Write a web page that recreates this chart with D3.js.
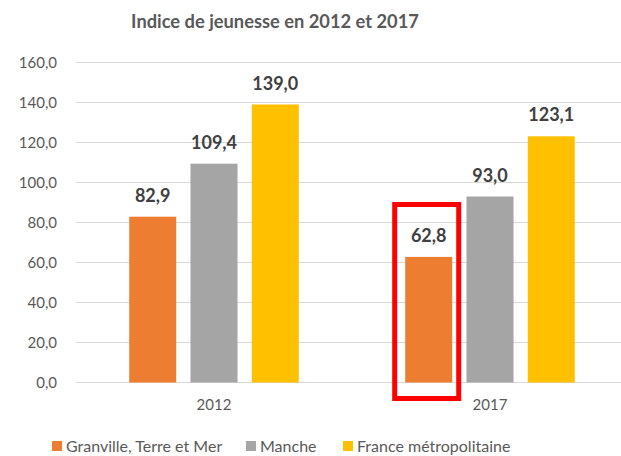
<!DOCTYPE html>
<html>
<head>
<meta charset="utf-8">
<script src="https://cdn.jsdelivr.net/npm/d3@7"></script>
<style>
  body { margin: 0; background: #fff; }
  svg { display: block; font-family: Lato, "Open Sans", sans-serif; }
</style>
</head>
<body>
<svg id="chart" width="621" height="456"></svg>
<script>
var years = ["2012", "2017"];
var series = ["Granville, Terre et Mer", "Manche", "France métropolitaine"];
var granville = [82.9, 62.8];
var manche = [109.4, 93.0];
var france = [139.0, 123.1];
var yTicks = [0, 20, 40, 60, 80, 100, 120, 140, 160];
var colors = ["#ED7D31", "#A5A5A5", "#FFC000"];

var values = [granville, manche, france];
var fmt = function(v) { return v.toFixed(1).replace(".", ","); };

var svg = d3.select("#chart");

var x0 = d3.scaleBand().domain(years).range([76, 628]);
var x1 = d3.scaleBand().domain(series).range([0, x0.bandwidth()])
  .paddingInner(0.233).paddingOuter(0.868);
var y = d3.scaleLinear().domain([0, 160]).range([382.5, 62.5]);
var color = d3.scaleOrdinal().domain(series).range(colors);

// title
svg.append("text")
  .attr("x", 275)
  .attr("y", 28)
  .attr("text-anchor", "middle")
  .style("font-size", "18.3px")
  .style("font-weight", "bold")
  .style("fill", "#595959")
  .text("Indice de jeunesse en 2012 et 2017");

// gridlines
svg.append("g")
  .selectAll("line")
  .data(yTicks)
  .enter().append("line")
  .attr("x1", 76)
  .attr("x2", 628)
  .attr("y1", function(d) { return y(d); })
  .attr("y2", function(d) { return y(d); })
  .style("stroke", "#d9d9d9")
  .style("stroke-width", 1);

// y axis labels
var yAxis = svg.append("g")
  .attr("transform", "translate(64,0)")
  .call(d3.axisLeft(y).tickValues(yTicks).tickSize(0).tickPadding(7).tickFormat(fmt));
yAxis.select(".domain").remove();
yAxis.selectAll("text")
  .style("font-family", "Lato, sans-serif")
  .style("font-size", "15px")
  .style("fill", "#595959");

// x axis labels
var xAxis = svg.append("g")
  .attr("transform", "translate(0," + y(0) + ")")
  .call(d3.axisBottom(x0).tickSize(0).tickPadding(17));
xAxis.select(".domain").remove();
xAxis.selectAll("text")
  .style("font-family", "Lato, sans-serif")
  .style("font-size", "15px")
  .style("fill", "#595959");

// bars
var groups = svg.append("g")
  .selectAll("g")
  .data(years)
  .enter().append("g")
  .attr("transform", function(d) { return "translate(" + x0(d) + ",0)"; });

groups.selectAll("rect")
  .data(function(d, i) {
    return series.map(function(s, j) { return {key: s, value: values[j][i]}; });
  })
  .enter().append("rect")
  .attr("x", function(d) { return x1(d.key); })
  .attr("y", function(d) { return y(d.value); })
  .attr("width", x1.bandwidth())
  .attr("height", function(d) { return y(0) - y(d.value); })
  .style("fill", function(d) { return color(d.key); });

groups.selectAll("text.val")
  .data(function(d, i) {
    return series.map(function(s, j) { return {key: s, value: values[j][i]}; });
  })
  .enter().append("text")
  .attr("class", "val")
  .attr("x", function(d) { return x1(d.key) + x1.bandwidth() / 2; })
  .attr("y", function(d) { return y(d.value) - 15; })
  .attr("text-anchor", "middle")
  .style("font-size", "18px")
  .style("font-weight", "bold")
  .style("fill", "#404040")
  .text(function(d) { return fmt(d.value); });

// red highlight around Granville 2017
var hx = x0("2017") + x1(series[0]);
svg.append("rect")
  .attr("x", hx - 10.5)
  .attr("y", y(granville[1]) - 52.4)
  .attr("width", x1.bandwidth() + 17)
  .attr("height", y(0) + 16 - (y(granville[1]) - 52.4))
  .style("fill", "none")
  .style("stroke", "#FF0000")
  .style("stroke-width", 5);

// legend (kept just inside the bottom edge)
var legendPos = [52, 246, 343];
var legend = svg.append("g")
  .selectAll("g")
  .data(series)
  .enter().append("g")
  .attr("transform", function(d, i) { return "translate(" + legendPos[i] + ",441)"; });

legend.append("rect")
  .attr("width", 10)
  .attr("height", 10)
  .style("fill", function(d) { return color(d); });

legend.append("text")
  .attr("x", 14)
  .attr("y", 11)
  .style("font-size", "16px")
  .style("fill", "#595959")
  .text(function(d) { return d; });
</script>
</body>
</html>
